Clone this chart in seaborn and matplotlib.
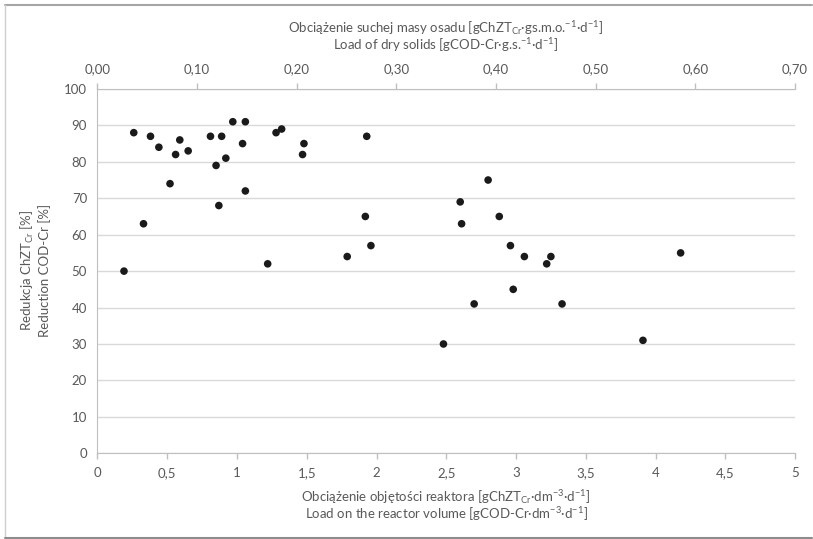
import matplotlib
matplotlib.use("Agg")
import matplotlib.pyplot as plt
import seaborn as sns
import pandas as pd
from matplotlib.ticker import FuncFormatter
from matplotlib.lines import Line2D

# Reactor volume load [gCOD-Cr/dm3/d] and COD reduction [%]
load_volume = [0.19, 0.26, 0.33, 0.38, 0.44, 0.52, 0.56, 0.59, 0.65, 0.81,
               0.85, 0.87, 0.89, 0.92, 0.97, 1.04, 1.06, 1.06, 1.22, 1.28,
               1.32, 1.47, 1.48, 1.79, 1.92, 1.93, 1.96, 2.48, 2.60, 2.61,
               2.70, 2.80, 2.88, 2.96, 2.98, 3.06, 3.22, 3.25, 3.33, 3.91,
               4.18]
reduction = [50, 88, 63, 87, 84, 74, 82, 86, 83, 87,
             79, 68, 87, 81, 91, 85, 91, 72, 52, 88,
             89, 82, 85, 54, 65, 87, 57, 30, 69, 63,
             41, 75, 65, 57, 45, 54, 52, 54, 41, 31,
             55]

x_ticks = [0, 0.5, 1, 1.5, 2, 2.5, 3, 3.5, 4, 4.5, 5]
top_ticks = [0.0, 0.1, 0.2, 0.3, 0.4, 0.5, 0.6, 0.7]
y_ticks = list(range(0, 101, 10))

df = pd.DataFrame({"load": load_volume, "reduction": reduction})

sns.set_style("white")
plt.rcParams["font.family"] = ["Lato", "DejaVu Sans"]
plt.rcParams["mathtext.fontset"] = "custom"
plt.rcParams["mathtext.rm"] = "Lato"
plt.rcParams["mathtext.it"] = "Lato"
plt.rcParams["mathtext.default"] = "regular"

txt = "#595959"
axc = "#bfbfbf"
W, H = 813, 539

fig = plt.figure(figsize=(W / 100, H / 100), dpi=100)
ax = fig.add_axes([0.1199, 0.159, 0.858, 0.676])

sns.scatterplot(data=df, x="load", y="reduction", ax=ax, color="#1a1a1a",
                s=30, edgecolor="none", zorder=3)

ax.set_xlim(0, 5)
ax.set_ylim(0, 100)
ax.set_xticks(x_ticks)
ax.set_yticks(y_ticks)
ax.xaxis.set_major_formatter(FuncFormatter(lambda v, p: f"{v:g}".replace(".", ",")))
ax.yaxis.grid(True, color="#d9d9d9", linewidth=1)
ax.set_axisbelow(True)
ax.set_xlabel("")
ax.set_ylabel("")

for s in ["top", "right"]:
    ax.spines[s].set_visible(False)
for s in ["left", "bottom"]:
    ax.spines[s].set_color(axc)
ax.tick_params(axis="both", colors=axc, labelcolor=txt, labelsize=9.5,
               direction="out", length=4, width=1)
ax.tick_params(axis="x", pad=6)

top = ax.twiny()
top.set_xlim(0, 0.7)
top.set_xticks(top_ticks)
top.xaxis.set_major_formatter(FuncFormatter(lambda v, p: f"{v:.2f}".replace(".", ",")))
for s in ["left", "right", "bottom"]:
    top.spines[s].set_visible(False)
top.spines["top"].set_color(axc)
top.tick_params(axis="x", colors=axc, labelcolor=txt, labelsize=9.5,
                direction="out", length=4, width=1, pad=6)

# axis titles, one text per line so the spacing matches
cx = 446 / W
lab = dict(color=txt, fontsize=9.5, ha="center", va="center")
fig.text(cx, 1 - 28 / H, "Obciążenie suchej masy osadu [gChZT$_{Cr}$·gs.m.o.$^{-1}$·d$^{-1}$]", **lab)
fig.text(cx, 1 - 45 / H, "Load of dry solids [gCOD-Cr·g.s.$^{-1}$·d$^{-1}$]", **lab)
fig.text(cx, 1 - 497 / H, "Obciążenie objętości reaktora [gChZT$_{Cr}$·dm$^{-3}$·d$^{-1}$]", **lab)
fig.text(cx, 1 - 514 / H, "Load on the reactor volume [gCOD-Cr·dm$^{-3}$·d$^{-1}$]", **lab)
fig.text(27 / W, 1 - 270 / H, "Redukcja ChZT$_{Cr}$ [%]", rotation=90, **lab)
fig.text(45 / W, 1 - 270 / H, "Reduction COD-Cr [%]", rotation=90, **lab)

# frame around the chart area
fig.add_artist(Line2D([5 / W, 812 / W], [1 - 4.5 / H, 1 - 4.5 / H], color="#a6a6a6", lw=1.5))
fig.add_artist(Line2D([5 / W, 5 / W], [1 - 4.5 / H, 1.5 / H], color="#d0d0d0", lw=1))
fig.add_artist(Line2D([5 / W, 812 / W], [1.5 / H, 1.5 / H], color="#8c8c8c", lw=1.5))

fig.savefig("out.png", dpi=100)
